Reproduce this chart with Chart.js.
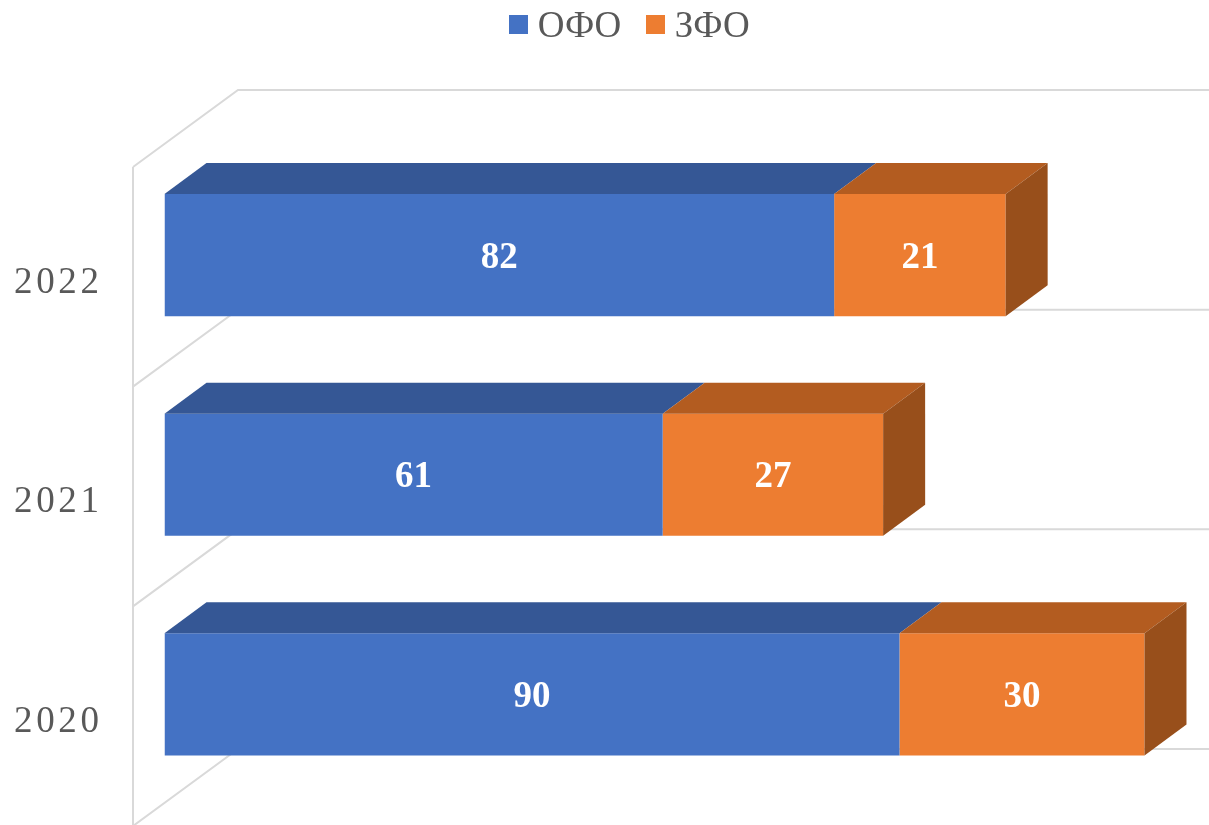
<!DOCTYPE html>
<html><head><meta charset="utf-8">
<style>html,body{margin:0;padding:0;background:#fff}#wrap{width:1209px;height:825px}</style>
<script src="https://cdn.jsdelivr.net/npm/chart.js@4"></script></head>
<body><div id="wrap"><canvas id="c"></canvas></div>
<script>
const categories = ['2022', '2021', '2020'];
const seriesNames = ['ОФО', 'ЗФО'];
const ofoValues = [82, 61, 90];
const zfoValues = [21, 27, 30];
const seriesColors = ['#4472C4', '#ED7D31'];
const topColors = ['#355795', '#B35C20'];
const sideColors = ['#2E4B80', '#984F1B'];

const SERIF = '"Liberation Serif", serif';
const GRID = '#D9D9D9';
const BAR_DX = 42, BAR_DY = 31, WALL_DX = 105, WALL_DY = 77, WALL_X = 133, FLOOR_SHIFT = 21.75;

function swatch(color) {
  const s = document.createElement('canvas');
  s.width = 19; s.height = 25;
  const g = s.getContext('2d');
  g.fillStyle = color; g.fillRect(0, 0, 19, 19);
  return s;
}

const frame3d = {
  id: 'frame3d',
  beforeDatasetsDraw(chart) {
    const { ctx, chartArea: a, scales: { y } } = chart;
    const band = Math.abs(y.getPixelForValue(1) - y.getPixelForValue(0));
    const first = a.top + FLOOR_SHIFT;
    ctx.save();
    ctx.strokeStyle = GRID;
    ctx.lineWidth = 2;
    ctx.beginPath();
    ctx.moveTo(WALL_X, first);
    ctx.lineTo(WALL_X, chart.height);
    for (let i = 0; i <= categories.length; i++) {
      const fy = first + band * i;
      ctx.moveTo(WALL_X, fy);
      ctx.lineTo(WALL_X + WALL_DX, fy - WALL_DY);
      ctx.lineTo(chart.width, fy - WALL_DY);
    }
    ctx.stroke();
    ctx.restore();
  },
  afterDatasetsDraw(chart) {
    const { ctx } = chart;
    const last = chart.data.datasets.length - 1;
    ctx.save();
    chart.data.datasets.forEach((ds, d) => {
      chart.getDatasetMeta(d).data.forEach((bar) => {
        const p = bar.getProps(['x', 'y', 'base', 'height'], true);
        const t = p.y - p.height / 2, b = p.y + p.height / 2;
        ctx.fillStyle = topColors[d];
        ctx.beginPath();
        ctx.moveTo(p.base, t);
        ctx.lineTo(p.base + BAR_DX, t - BAR_DY);
        ctx.lineTo(p.x + BAR_DX, t - BAR_DY);
        ctx.lineTo(p.x, t);
        ctx.closePath();
        ctx.fill();
        if (d === last) {
          ctx.fillStyle = sideColors[d];
          ctx.beginPath();
          ctx.moveTo(p.x, t);
          ctx.lineTo(p.x + BAR_DX, t - BAR_DY);
          ctx.lineTo(p.x + BAR_DX, b - BAR_DY);
          ctx.lineTo(p.x, b);
          ctx.closePath();
          ctx.fill();
        }
      });
    });
    ctx.font = 'bold 37px ' + SERIF;
    ctx.fillStyle = '#FFFFFF';
    ctx.textAlign = 'center';
    ctx.textBaseline = 'middle';
    chart.data.datasets.forEach((ds, d) => {
      chart.getDatasetMeta(d).data.forEach((bar, i) => {
        const p = bar.getProps(['x', 'y', 'base'], true);
        ctx.fillText(String(ds.data[i]), (p.x + p.base) / 2, p.y + 3);
      });
    });
    ctx.restore();
  }
};

new Chart(document.getElementById('c'), {
  type: 'bar',
  plugins: [frame3d],
  data: {
    labels: categories,
    datasets: [
      { label: seriesNames[0], data: ofoValues, backgroundColor: seriesColors[0] },
      { label: seriesNames[1], data: zfoValues, backgroundColor: seriesColors[1] }
    ]
  },
  options: {
    indexAxis: 'y',
    responsive: true,
    maintainAspectRatio: false,
    animation: false,
    devicePixelRatio: 1,
    layout: { padding: { top: -24, right: 0, bottom: 20.75, left: 58 } },
    datasets: { bar: { categoryPercentage: 1, barPercentage: 0.556 } },
    scales: {
      x: {
        position: 'top', stacked: true, min: 0, max: 127.9,
        grid: { display: false }, border: { display: false },
        ticks: { display: false },
        afterFit(s) { s.height = 89.25; s.paddingLeft = 0; s.paddingRight = 0; }
      },
      y: {
        stacked: true,
        grid: { display: false }, border: { display: false },
        ticks: {
          color: '#595959',
          font: { family: SERIF, size: 37 },
          padding: 54, labelOffset: 28
        },
        afterFit(s) { s.width = 106.5; s.paddingTop = 0; s.paddingBottom = 0; },
        beforeUpdate(s) {
          if (s._spaced) return;
          s._spaced = true;
          s._computeLabelArea = () => undefined;
          const draw = s.drawLabels;
          s.drawLabels = function (area) {
            const g = this.ctx;
            g.save();
            g.letterSpacing = '3.6px';
            draw.call(this, area);
            g.restore();
          };
        }
      }
    },
    plugins: {
      tooltip: { enabled: false },
      legend: {
        position: 'top',
        labels: {
          color: '#595959',
          font: { family: SERIF, size: 37 },
          usePointStyle: true,
          pointStyleWidth: 2,
          padding: 33,
          generateLabels(chart) {
            return Chart.defaults.plugins.legend.labels.generateLabels(chart).map((it, i) => {
              it.pointStyle = swatch(seriesColors[i]);
              return it;
            });
          }
        }
      }
    }
  }
});
</script></body></html>
